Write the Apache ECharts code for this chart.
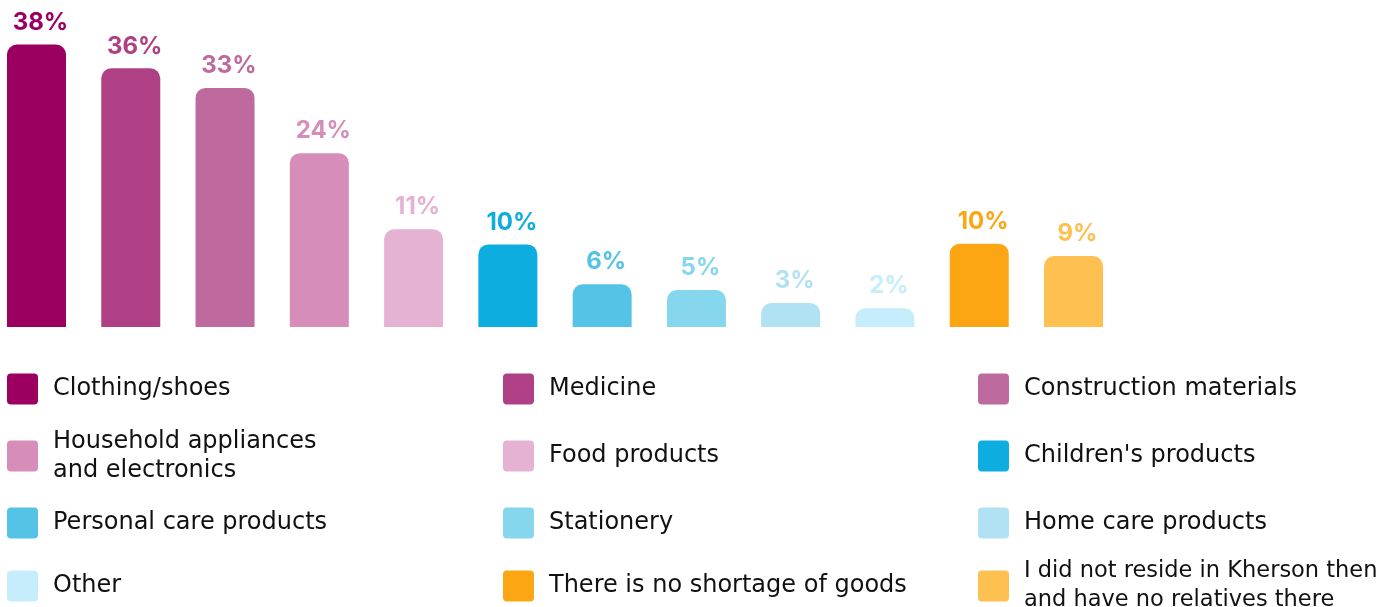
<!DOCTYPE html>
<html>
<head>
<meta charset="utf-8">
<script src="https://cdn.jsdelivr.net/npm/echarts@6/dist/echarts.min.js"></script>
<style>
  html, body { margin: 0; padding: 0; background: #ffffff; }
  #chart { width: 1388px; height: 607px; }
</style>
</head>
<body>
<div id="chart"></div>
<script>
  // categories, in bar order
  var categories = [
    'Clothing/shoes',
    'Medicine',
    'Construction materials',
    'Household appliances\nand electronics',
    'Food products',
    "Children's products",
    'Personal care products',
    'Stationery',
    'Home care products',
    'Other',
    'There is no shortage of goods',
    'I did not reside in Kherson then\nand have no relatives there'
  ];
  // bar heights
  var values = [39.0, 35.7, 33.0, 24.0, 13.5, 11.4, 5.9, 5.1, 3.3, 2.6, 11.5, 9.8];
  // printed labels above the bars
  var labels = ['38%', '36%', '33%', '24%', '11%', '10%', '6%', '5%', '3%', '2%', '10%', '9%'];
  var colors = [
    '#9b0060', '#b04085', '#bf6a9f', '#d68dba', '#e5b2d3', '#0daedf',
    '#54c3e6', '#86d6ee', '#b1e2f3', '#c5edfb', '#fca614', '#fec050'
  ];

  // legend grid: 3 columns, 4 rows (row value = icon centre)
  var legendCols = [7, 503, 978];
  var legendRows = [389, 456, 523, 586];
  var iconPath = 'path://M4,0H27A4,4,0,0,1,31,4V27A4,4,0,0,1,27,31H4A4,4,0,0,1,0,27V4A4,4,0,0,1,4,0Z';
  var lineH = 29;

  var chart = echarts.init(document.getElementById('chart'));

  var series = categories.map(function (name, i) {
    var data = categories.map(function (c, j) { return j === i ? values[i] : '-'; });
    return {
      name: name,
      type: 'bar',
      stack: 'all',
      barWidth: 59,
      clip: false,
      data: data,
      itemStyle: {
        color: colors[i],
        borderRadius: [10, 10, 0, 0]
      },
      label: {
        show: true,
        position: 'top',
        distance: 10,
        offset: [4, 0],
        color: colors[i],
        fontFamily: 'Inter',
        fontWeight: 700,
        fontSize: 24,
        formatter: function () { return labels[i]; }
      },
      emphasis: { disabled: true }
    };
  });

  var legends = categories.map(function (name, i) {
    var twoLines = name.indexOf('\n') >= 0;
    // last entry is long, keep it inside the right edge
    var size = i === categories.length - 1 ? 22.5 : 24;
    return {
      data: [name],
      left: legendCols[i % 3],
      top: legendRows[Math.floor(i / 3)] - (twoLines ? lineH : 15.5),
      orient: 'vertical',
      padding: 0,
      selectedMode: false,
      icon: iconPath,
      itemWidth: 31,
      itemHeight: 31,
      textStyle: {
        color: '#111111',
        fontFamily: 'DejaVu Sans',
        fontSize: size,
        lineHeight: lineH,
        padding: [0, 0, 0, 10]
      }
    };
  });

  chart.setOption({
    animation: false,
    grid: {
      left: 36.5,
      right: 314.5,
      top: 1,
      bottom: 280
    },
    xAxis: {
      type: 'category',
      data: categories,
      boundaryGap: false,
      show: false
    },
    yAxis: {
      type: 'value',
      min: 0,
      max: 45,
      show: false
    },
    legend: legends,
    series: series
  });
</script>
</body>
</html>
